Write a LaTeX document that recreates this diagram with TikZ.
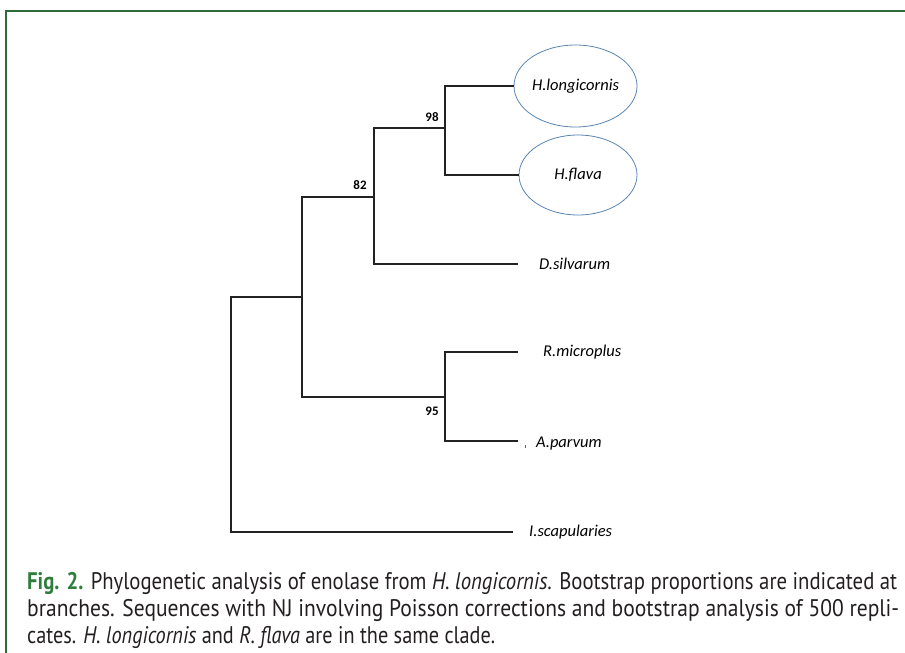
\documentclass[tikz,border=0pt]{standalone}
\usepackage{fontspec}
\usepackage{graphicx}
\setmainfont{PT Sans}
\newfontfamily\treefont{Carlito}
\usetikzlibrary{shapes.geometric}
\definecolor{framegreen}{HTML}{2E6B3A}
\definecolor{figgreen}{HTML}{2F7D3C}
\definecolor{ellblue}{HTML}{5B84B1}
\definecolor{branch}{HTML}{222222}
\definecolor{captext}{HTML}{231F20}
\tikzset{
  branchline/.style={draw=branch, line width=1.6pt},
  leaflabel/.style={font=\treefont\itshape\fontsize{16.5}{18}\selectfont, anchor=west, inner sep=0pt},
  taxonellipse/.style={ellipse, draw=ellblue, line width=0.8pt, font=\treefont\itshape\fontsize{16.5}{18}\selectfont, inner sep=0pt},
  bootlabel/.style={font=\treefont\bfseries\fontsize{13}{15}\selectfont, inner sep=0pt},
  capline/.style={anchor=base west, inner sep=0pt, text=captext, font=\fontsize{24}{27}\selectfont},
  frameline/.style={draw=framegreen, line width=1.5pt}
}
\begin{document}
\begin{tikzpicture}[x=1pt,y=-1pt]
\useasboundingbox (0,0) rectangle (905,653);
% frame
\draw[frameline] (6,653) -- (6,11) -- (905,11);
% taxa
\node[taxonellipse, minimum width=121pt, minimum height=82pt] (hl) at (575.5,86) {H.longicornis};
\node[taxonellipse, minimum width=118pt, minimum height=80pt] (hf) at (578,175) {H.flava};
\coordinate (dsend) at (518,264);
\coordinate (rmend) at (518,352);
\coordinate (apend) at (518,441);
\coordinate (isend) at (513,532);
\node[leaflabel] (ds) at (539,264) {D.silvarum};
\node[leaflabel] (rm) at (543,352) {R.microplus};
\node[leaflabel] (ap) at (536,444) {A.parvum};
\node[leaflabel] (is) at (529,532) {I.scapularies};
% internal nodes
\coordinate (C) at (445,128);
\coordinate (B) at (374,197);
\coordinate (D) at (445,397);
\coordinate (A) at (302,297);
\coordinate (R) at (231,414);
% branches
\draw[branchline] (hl.west) -| (C) |- (hf.west);
\draw[branchline] (C) -| (B) |- (dsend);
\draw[branchline] (rmend) -| (D) |- (apend);
\draw[branchline] (B) -| (A) |- (D);
\draw[branchline] (A) -| (R) |- (isend);
% small tick near A.parvum
\draw[draw=brown!70!black, line width=0.6pt] (525,445) -- (525,448);
% bootstrap values
\node[bootlabel] (b98) at (432,117) {98};
\node[bootlabel] (b82) at (360,185) {82};
\node[bootlabel] (b95) at (432,411) {95};
% caption
\node[capline] (cap1) at (27,589) {\resizebox{870pt}{\height}{\textcolor{figgreen}{\textbf{Fig. 2.}} Phylogenetic analysis of enolase from \textit{H. longicornis}. Bootstrap proportions are indicated at}};
\node[capline] (cap2) at (27,616) {\resizebox{872pt}{\height}{branches. Sequences with NJ involving Poisson corrections and bootstrap analysis of 500 repli-}};
\node[capline] (cap3) at (27,643) {\resizebox{468pt}{\height}{cates. \textit{H. longicornis} and \textit{R. flava} are in the same clade.}};
\end{tikzpicture}
\end{document}
